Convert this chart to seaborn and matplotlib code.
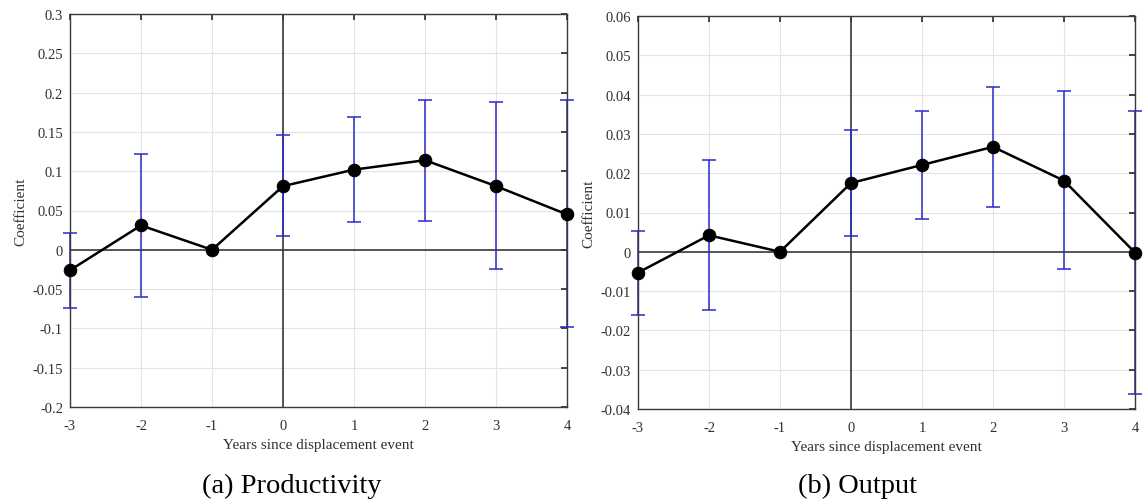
import numpy as np
import pandas as pd
import matplotlib
matplotlib.use("Agg")
import matplotlib.pyplot as plt
import seaborn as sns

years = [-3, -2, -1, 0, 1, 2, 3, 4]

prod_coef = [-0.026, 0.031, 0.0, 0.081, 0.102, 0.114, 0.081, 0.045]
prod_low = [-0.074, -0.060, 0.0, 0.017, 0.035, 0.037, -0.025, -0.098]
prod_high = [0.022, 0.122, 0.0, 0.146, 0.169, 0.191, 0.188, 0.190]

out_coef = [-0.0053, 0.0042, 0.0, 0.0175, 0.0221, 0.0267, 0.0181, -0.0002]
out_low = [-0.0160, -0.0148, 0.0, 0.0040, 0.0083, 0.0115, -0.0043, -0.0363]
out_high = [0.0053, 0.0234, 0.0, 0.0309, 0.0357, 0.0419, 0.0408, 0.0357]

prod_yticks = [-0.2, -0.15, -0.1, -0.05, 0, 0.05, 0.1, 0.15, 0.2, 0.25, 0.3]
prod_ylabels = ["-0.2", "-0.15", "-0.1", "-0.05", "0", "0.05", "0.1", "0.15", "0.2", "0.25", "0.3"]
out_yticks = [-0.04, -0.03, -0.02, -0.01, 0, 0.01, 0.02, 0.03, 0.04, 0.05, 0.06]
out_ylabels = ["-0.04", "-0.03", "-0.02", "-0.01", "0", "0.01", "0.02", "0.03", "0.04", "0.05", "0.06"]

xlabel = "Years since displacement event"
ylabel = "Coefficient"
captions = ["(a) Productivity", "(b) Output"]

sns.set_theme(style="white")
plt.rcParams["font.family"] = ["Liberation Serif", "DejaVu Serif"]

fig = plt.figure(figsize=(11.48, 5.02), dpi=100)
ax1 = fig.add_axes([70 / 1148, 94 / 502, 497 / 1148, 393 / 502])
ax2 = fig.add_axes([638 / 1148, 92 / 502, 497 / 1148, 393 / 502])

panels = [
    (ax1, prod_coef, prod_low, prod_high, prod_yticks, prod_ylabels),
    (ax2, out_coef, out_low, out_high, out_yticks, out_ylabels),
]

for ax, coef, low, high, yt, ylab in panels:
    df = pd.DataFrame({"year": years, "coef": coef, "low": low, "high": high})
    ax.set_xlim(-3, 4)
    ax.set_ylim(yt[0], yt[-1])
    ax.set_xticks(years)
    ax.set_xticklabels([str(v) for v in years])
    ax.set_yticks(yt)
    ax.set_yticklabels(ylab)
    ax.grid(True, color="#e3e3e3", linewidth=0.8)
    ax.set_axisbelow(True)
    ax.axhline(0, color="#3a3a3a", linewidth=1.2, zorder=1)
    ax.axvline(0, color="#3a3a3a", linewidth=1.2, zorder=1)
    mask = df["year"] != -1
    sub = df[mask]
    ax.errorbar(sub["year"], sub["coef"],
                yerr=[sub["coef"] - sub["low"], sub["high"] - sub["coef"]],
                fmt="none", ecolor="#2a2acc", elinewidth=1.1, capsize=5,
                capthick=1.1, zorder=2, clip_on=False)
    sns.lineplot(data=df, x="year", y="coef", ax=ax, color="black",
                 linewidth=1.8, marker="o", markersize=9,
                 markerfacecolor="black", markeredgecolor="black",
                 zorder=3, clip_on=False)
    ax.set_xlabel(xlabel, fontsize=11, color="#303030", labelpad=4)
    ax.set_ylabel(ylabel, fontsize=11, color="#303030", labelpad=4)
    ax.tick_params(axis="both", which="both", direction="in", length=4,
                   top=True, right=True, labelsize=10.5, colors="#303030")
    ax.tick_params(axis="x", pad=9)
    ax.tick_params(axis="y", pad=5)
    for s in ax.spines.values():
        s.set_visible(True)
        s.set_color("#3a3a3a")
        s.set_linewidth(1.0)

fig.text(292 / 1148, 1 - 486 / 502, captions[0], ha="center", va="center",
         fontsize=20.5, color="black")
fig.text(858 / 1148, 1 - 486 / 502, captions[1], ha="center", va="center",
         fontsize=20.5, color="black")

fig.savefig("out.png", dpi=100)
